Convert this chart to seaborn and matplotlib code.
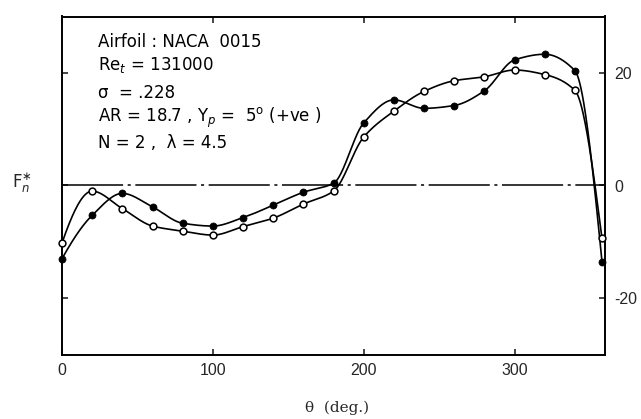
import numpy as np
import pandas as pd
import matplotlib
matplotlib.use("Agg")
import matplotlib.pyplot as plt
import seaborn as sns

# ---- data ----
theta = [0, 20, 40, 60, 80, 100, 120, 140, 160, 180, 200, 220, 240, 260, 280, 300, 320, 340, 358]
fn_open = [-10.2, -1.0, -4.1, -7.2, -8.1, -8.8, -7.3, -5.8, -3.3, -1.0, 8.6, 13.2, 16.7, 18.6, 19.3, 20.5, 19.7, 16.9, -9.4]
fn_filled = [-13.0, -5.3, -1.4, -3.8, -6.7, -7.2, -5.7, -3.5, -1.2, 0.4, 11.1, 15.2, 13.7, 14.2, 16.8, 22.3, 23.3, 20.4, -13.5]

x_ticks = [0, 100, 200, 300]
y_ticks = [-20, 0, 20]
annot_lines = [
    "Airfoil : NACA  0015",
    r"Re$_t$ = 131000",
    "σ  = .228",
    r"AR = 18.7 , Y$_p$ =  5$^{\mathrm{o}}$ (+ve )",
    "N = 2 ,  λ = 4.5",
]


def pchip(x, y, xs):
    """Monotone piecewise cubic Hermite curve through the points (for drawing)."""
    x = np.asarray(x, float); y = np.asarray(y, float)
    h = np.diff(x); delta = np.diff(y) / h
    n = len(x)
    m = np.zeros(n)
    for k in range(1, n - 1):
        if delta[k - 1] * delta[k] > 0:
            w1 = 2 * h[k] + h[k - 1]; w2 = h[k] + 2 * h[k - 1]
            m[k] = (w1 + w2) / (w1 / delta[k - 1] + w2 / delta[k])
        else:
            m[k] = 0.0

    def end(h0, h1, d0, d1):
        d = ((2 * h0 + h1) * d0 - h0 * d1) / (h0 + h1)
        if np.sign(d) != np.sign(d0):
            d = 0.0
        elif np.sign(d0) != np.sign(d1) and abs(d) > abs(3 * d0):
            d = 3 * d0
        return d

    m[0] = end(h[0], h[1], delta[0], delta[1])
    m[-1] = end(h[-1], h[-2], delta[-1], delta[-2])
    idx = np.clip(np.searchsorted(x, xs) - 1, 0, n - 2)
    t = (xs - x[idx]) / h[idx]
    h00 = 2 * t ** 3 - 3 * t ** 2 + 1
    h10 = t ** 3 - 2 * t ** 2 + t
    h01 = -2 * t ** 3 + 3 * t ** 2
    h11 = t ** 3 - t ** 2
    return h00 * y[idx] + h10 * h[idx] * m[idx] + h01 * y[idx + 1] + h11 * h[idx] * m[idx + 1]


sns.set_style("ticks")
plt.rcParams["font.family"] = ["DejaVu Sans"]

W, H = 641, 419
fig = plt.figure(figsize=(W / 100, H / 100), dpi=100)
ax = fig.add_axes([62 / W, 1 - 354.5 / H, (605 - 62) / W, (354.5 - 16.5) / H])

xs = np.linspace(theta[0], theta[-1], 800)
curves = pd.DataFrame({
    "theta": np.concatenate([xs, xs]),
    "fn": np.concatenate([pchip(theta, fn_open, xs), pchip(theta, fn_filled, xs)]),
    "series": ["open"] * len(xs) + ["filled"] * len(xs),
})
sns.lineplot(data=curves, x="theta", y="fn", units="series", estimator=None,
             color="black", linewidth=1.2, sort=False, ax=ax, zorder=2)

pts_open = pd.DataFrame({"theta": theta, "fn": fn_open})
pts_filled = pd.DataFrame({"theta": theta, "fn": fn_filled})
sns.scatterplot(data=pts_open, x="theta", y="fn", marker="o", s=24, facecolor="white",
                edgecolor="black", linewidth=1.1, ax=ax, zorder=4, clip_on=False)
sns.scatterplot(data=pts_filled, x="theta", y="fn", marker="o", s=26, color="black",
                edgecolor="black", linewidth=0.5, ax=ax, zorder=5, clip_on=False)

ax.axhline(0, color="black", linewidth=1.1, linestyle=(0, (40, 3, 2, 3)), zorder=1)

ax.set_xlim(0, 360)
ax.set_ylim(-30, 30)
ax.set_xticks(x_ticks)
ax.set_xticklabels([str(v) for v in x_ticks])
ax.set_yticks(y_ticks)
ax.set_yticklabels([str(v) for v in y_ticks])
ax.set_xlabel("")
ax.set_ylabel("")
for s in ax.spines.values():
    s.set_visible(True)
    s.set_linewidth(1.4)
    s.set_color("black")
ax.tick_params(axis="x", direction="in", top=True, bottom=True, labeltop=False,
               labelbottom=True, length=4, width=1.2, pad=6, labelsize=11.5,
               labelfontfamily="Liberation Sans")
ax.tick_params(axis="y", direction="in", left=True, right=True, labelleft=False,
               labelright=True, length=4, width=1.2, pad=7, labelsize=11.5,
               labelfontfamily="Liberation Sans")

ys = [42, 65, 93, 118, 143]
for txt, yy in zip(annot_lines, ys):
    fig.text(98 / W, 1 - yy / H, txt, fontsize=12, va="center", ha="left", color="black")

fig.text(12 / W, 1 - 183 / H, r"F$_n^{\ast}$", fontsize=12, va="center", ha="left")
fig.text(337 / W, 1 - 408 / H, "θ  (deg.)", fontsize=11, va="center", ha="center",
         family="DejaVu Serif")

fig.savefig("out.png", dpi=100, facecolor="white")
